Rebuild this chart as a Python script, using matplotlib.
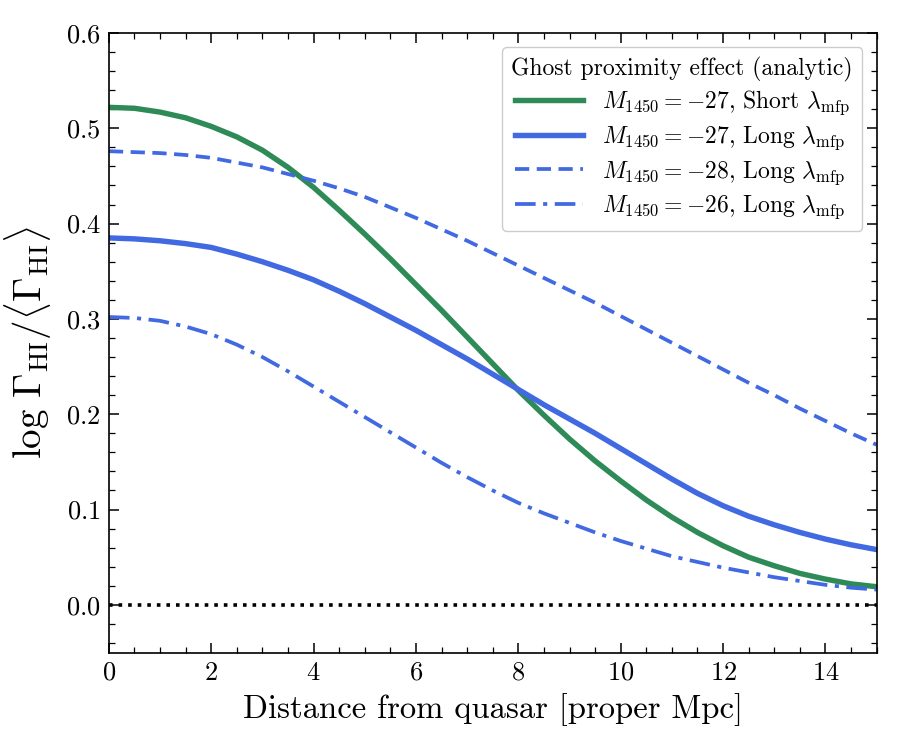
import matplotlib
matplotlib.use("Agg")
import matplotlib.pyplot as plt
from matplotlib.ticker import AutoMinorLocator, MultipleLocator

plt.rcParams['font.family'] = 'serif'
plt.rcParams['font.serif'] = ['cmr10']
plt.rcParams['mathtext.fontset'] = 'cm'
plt.rcParams['axes.formatter.use_mathtext'] = True

# Data
distance = [0, 0.5, 1, 1.5, 2, 2.5, 3, 3.5, 4, 4.5, 5, 5.5, 6, 6.5, 7, 7.5,
            8, 8.5, 9, 9.5, 10, 10.5, 11, 11.5, 12, 12.5, 13, 13.5, 14, 14.5, 15]
short_m27 = [0.522, 0.521, 0.517, 0.511, 0.502, 0.491, 0.477, 0.459, 0.438, 0.414,
             0.389, 0.363, 0.336, 0.309, 0.281, 0.253, 0.225, 0.199, 0.174, 0.151,
             0.130, 0.110, 0.092, 0.076, 0.062, 0.050, 0.041, 0.033, 0.027, 0.022, 0.019]
long_m27 = [0.385, 0.384, 0.382, 0.379, 0.375, 0.368, 0.360, 0.351, 0.341, 0.329,
            0.316, 0.302, 0.288, 0.273, 0.258, 0.242, 0.226, 0.210, 0.195, 0.180,
            0.164, 0.148, 0.132, 0.117, 0.104, 0.093, 0.084, 0.076, 0.069, 0.063, 0.058]
long_m28 = [0.476, 0.475, 0.474, 0.472, 0.469, 0.464, 0.459, 0.452, 0.445, 0.437,
            0.428, 0.417, 0.406, 0.394, 0.382, 0.369, 0.356, 0.343, 0.330, 0.317,
            0.303, 0.289, 0.275, 0.261, 0.247, 0.233, 0.220, 0.206, 0.193, 0.180, 0.168]
long_m26 = [0.302, 0.301, 0.298, 0.292, 0.284, 0.273, 0.260, 0.245, 0.229, 0.213,
            0.197, 0.181, 0.165, 0.149, 0.134, 0.120, 0.107, 0.096, 0.086, 0.076,
            0.067, 0.059, 0.051, 0.045, 0.039, 0.034, 0.029, 0.025, 0.021, 0.018, 0.016]
labels = [r'$M_{1450} = -27$, Short $\lambda_{\rm mfp}$',
          r'$M_{1450} = -27$, Long $\lambda_{\rm mfp}$',
          r'$M_{1450} = -28$, Long $\lambda_{\rm mfp}$',
          r'$M_{1450} = -26$, Long $\lambda_{\rm mfp}$']
legend_title = 'Ghost proximity effect (analytic)'

green = '#2E8B57'
blue = '#4169E1'

fig = plt.figure(figsize=(9, 7.5), dpi=100)
ax = fig.add_axes([0.121, 0.13, 0.853, 0.826])

ax.axhline(0.0, color='black', ls=':', lw=2.6)
ax.plot(distance, short_m27, color=green, lw=3.9, label=labels[0])
ax.plot(distance, long_m27, color=blue, lw=3.9, label=labels[1])
ax.plot(distance, long_m28, color=blue, lw=2.7, ls=(0, (3.8, 2.0)), label=labels[2])
ax.plot(distance, long_m26, color=blue, lw=2.7, ls=(0, (5.5, 2.0, 1.1, 2.0)), label=labels[3])

ax.set_xlim(0, 15)
ax.set_ylim(-0.05, 0.6)
ax.xaxis.set_major_locator(MultipleLocator(2))
ax.yaxis.set_major_locator(MultipleLocator(0.1))
ax.xaxis.set_minor_locator(AutoMinorLocator(4))
ax.yaxis.set_minor_locator(AutoMinorLocator(5))
ax.tick_params(which='both', direction='in', top=True, right=True, labelsize=19)
ax.tick_params(which='major', length=7, width=1.1, pad=6)
ax.tick_params(which='minor', length=4, width=0.9)
for s in ax.spines.values():
    s.set_linewidth(1.2)

ax.set_xlabel('Distance from quasar [proper Mpc]', fontsize=23.5, labelpad=6)
ax.set_ylabel(r'$\log\,\Gamma_{\rm HI}/\langle\Gamma_{\rm HI}\rangle$', fontsize=28, labelpad=8)

leg = ax.legend(loc='upper right', fontsize=17, title=legend_title,
                title_fontsize=17, handlelength=2.9, framealpha=1, edgecolor='#cccccc',
                fancybox=True, borderaxespad=0.6, labelspacing=0.3)

fig.savefig('out.png', dpi=100)
